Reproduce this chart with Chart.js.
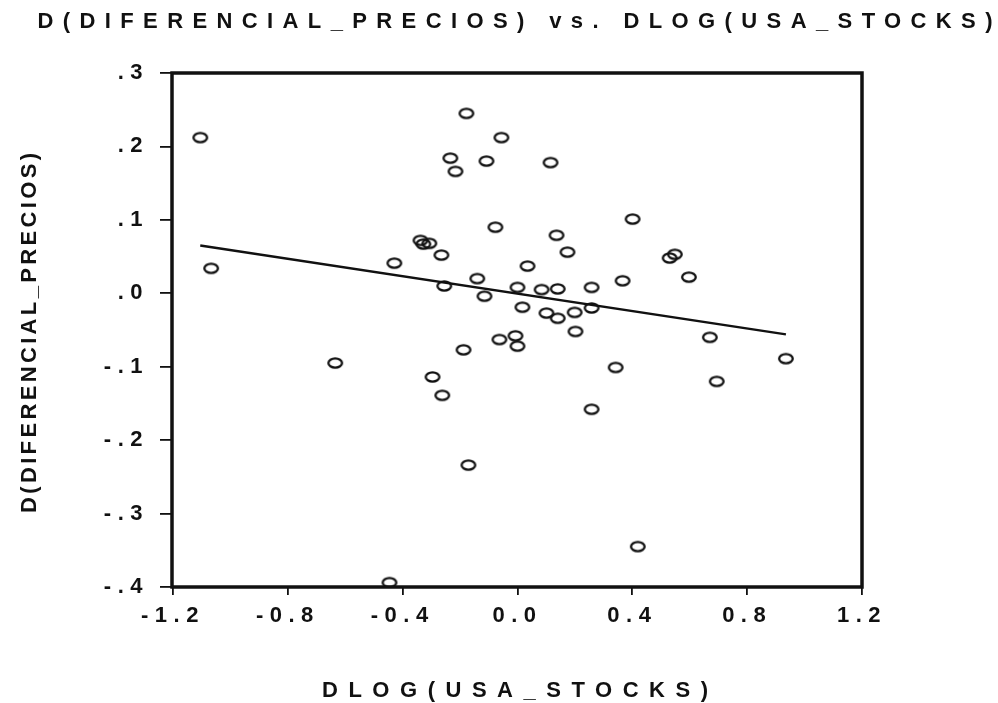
<!DOCTYPE html>
<html>
<head>
<meta charset="utf-8">
<script src="https://cdn.jsdelivr.net/npm/chart.js@4"></script>
<style>
  html, body { margin: 0; padding: 0; background: #fff; }
  #wrap { width: 998px; height: 703px; }
</style>
</head>
<body>
<div id="wrap"><canvas id="scatterChart" width="998" height="703"></canvas></div>
<script>
// Values
const xVals = [
  -1.105, -1.067, -0.635, -0.429, -0.446, -0.178, -0.056, -0.234, -0.216, -0.108,
  0.115, 0.401, -0.077, 0.136, 0.174, -0.338, -0.328, -0.307, -0.265, 0.530,
  0.548, 0.035, -0.140, 0.366, 0.597, -0.255, 0.000, 0.084, 0.140, 0.258,
  -0.115, 0.017, 0.101, 0.140, 0.199, 0.258, 0.202, -0.063, -0.007, 0.000,
  -0.188, 0.342, -0.296, -0.262, 0.258, 0.670, 0.935, 0.694, -0.171, 0.419,
];
const yVals = [
  0.212, 0.034, -0.095, 0.041, -0.394, 0.245, 0.212, 0.184, 0.166, 0.180,
  0.178, 0.101, 0.090, 0.079, 0.056, 0.072, 0.067, 0.068, 0.052, 0.048,
  0.053, 0.037, 0.020, 0.017, 0.022, 0.010, 0.008, 0.005, 0.006, 0.008,
  -0.004, -0.019, -0.027, -0.034, -0.026, -0.020, -0.052, -0.063, -0.058, -0.072,
  -0.077, -0.101, -0.114, -0.139, -0.158, -0.060, -0.089, -0.120, -0.234, -0.345,
];

// Fitted line end points
const regX = [-1.105, 0.935];
const regY = [0.065, -0.056];

// Tick labels
const xTicks = [-1.2, -0.8, -0.4, 0.0, 0.4, 0.8, 1.2];
const yTicks = [-0.4, -0.3, -0.2, -0.1, 0.0, 0.1, 0.2, 0.3];

const chartTitle = "D(DIFERENCIAL_PRECIOS) vs. DLOG(USA_STOCKS)";
const xTitle = "DLOG(USA_STOCKS)";
const yTitle = "D(DIFERENCIAL_PRECIOS)";

const fontFamily = '"Liberation Sans", Arial, sans-serif';
const ink = "#111";

// Small ellipse used as the point marker
function makeRing() {
  const c = document.createElement("canvas");
  c.width = 20;
  c.height = 16;
  const g = c.getContext("2d");
  g.strokeStyle = ink;
  g.lineWidth = 2.3;
  g.beginPath();
  g.ellipse(10, 8, 6.8, 4.6, 0, 0, Math.PI * 2);
  g.stroke();
  return c;
}

function formatY(v) {
  const s = Math.abs(v).toFixed(1).replace(/^0/, "");
  return (v < -1e-9 ? "-" : "") + s;
}

// Draw text stretched with letter spacing to a given width
function spacedText(ctx, text, cx, baseY, width, rotate) {
  ctx.save();
  ctx.letterSpacing = "0px";
  ctx.font = "bold 22px " + fontFamily;
  const w0 = ctx.measureText(text).width;
  const gap = (width - w0) / (text.length - 1);
  ctx.letterSpacing = gap + "px";
  ctx.fillStyle = ink;
  ctx.textAlign = "left";
  ctx.textBaseline = "alphabetic";
  ctx.translate(cx, baseY);
  if (rotate) ctx.rotate(-Math.PI / 2);
  ctx.fillText(text, -width / 2, 0);
  ctx.restore();
}

const framePlugin = {
  id: "frame",
  beforeDraw(chart) {
    chart.ctx.letterSpacing = "6.5px";
  },
  afterDatasetsDraw(chart) {
    const { ctx, chartArea: a } = chart;
    ctx.save();
    ctx.strokeStyle = ink;
    ctx.lineWidth = 3.5;
    ctx.strokeRect(a.left - 1, a.top, a.right - a.left + 1, a.bottom - a.top);
    ctx.restore();
  },
  afterDraw(chart) {
    const ctx = chart.ctx;
    spacedText(ctx, chartTitle, 515, 28, 955, false);
    spacedText(ctx, xTitle, 515, 697, 386, false);
    spacedText(ctx, yTitle, 36, 333, 360, true);
  },
};

document.addEventListener("DOMContentLoaded", function () {
  const ctx = document.getElementById("scatterChart").getContext("2d");

  new Chart(ctx, {
    type: "scatter",
    data: {
      datasets: [
        {
          label: "points",
          data: xVals.map((x, i) => ({ x: x, y: yVals[i] })),
          pointStyle: makeRing(),
          pointRadius: 7,
        },
        {
          type: "line",
          label: "fit",
          data: regX.map((x, i) => ({ x: x, y: regY[i] })),
          showLine: true,
          borderColor: ink,
          borderWidth: 2.4,
          pointRadius: 0,
          fill: false,
        },
      ],
    },
    options: {
      responsive: false,
      animation: false,
      layout: { padding: { top: 73, right: 136, left: 0, bottom: 0 } },
      plugins: {
        legend: { display: false },
        tooltip: { enabled: false },
        title: { display: false },
      },
      scales: {
        x: {
          type: "linear",
          min: -1.2,
          max: 1.2,
          afterFit: (scale) => { scale.height = 116; },
          afterBuildTicks: (scale) => { scale.ticks = xTicks.map(v => ({ value: v })); },
          border: { display: false },
          grid: { drawOnChartArea: false, drawTicks: true, tickLength: 8, color: ink, lineWidth: 1.8 },
          ticks: {
            color: ink,
            padding: 8,
            maxRotation: 0,
            font: { family: fontFamily, size: 22, weight: "bold" },
            callback: (v) => Number(v).toFixed(1),
          },
        },
        y: {
          type: "linear",
          min: -0.4,
          max: 0.3,
          afterFit: (scale) => { scale.width = 173; },
          afterBuildTicks: (scale) => { scale.ticks = yTicks.map(v => ({ value: v })); },
          border: { display: false },
          grid: { drawOnChartArea: false, drawTicks: true, tickLength: 13, color: ink, lineWidth: 1.8 },
          ticks: {
            color: ink,
            padding: 11,
            font: { family: fontFamily, size: 22, weight: "bold" },
            callback: (v) => formatY(v),
          },
        },
      },
    },
    plugins: [framePlugin],
  });
});
</script>
</body>
</html>
